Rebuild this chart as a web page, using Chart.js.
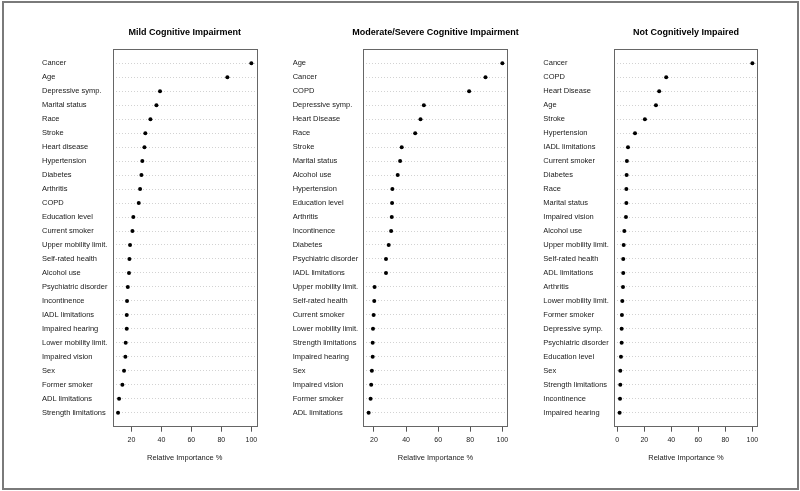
<!DOCTYPE html>
<html>
<head>
<meta charset="utf-8">
<script src="https://cdn.jsdelivr.net/npm/chart.js@4/dist/chart.umd.min.js"></script>
<style>
  html, body { margin: 0; padding: 0; background: #fff; }
  #wrap { position: relative; width: 800px; height: 491px; overflow: hidden; }
  #frame { position: absolute; left: 2px; top: 1px; width: 793px; height: 485px; border: 2px solid #7a7a7a; }
  canvas { position: absolute; top: 0; }
</style>
</head>
<body>
<div id="wrap">
  <div id="frame"></div>
  <canvas id="c1" width="266" height="491" style="left:0px"></canvas>
  <canvas id="c2" width="266" height="491" style="left:266px"></canvas>
  <canvas id="c3" width="268" height="491" style="left:532px"></canvas>
</div>
<script>
// Relative importance (%) of each predictor, top row first.
const mciLabels = ['Cancer', 'Age', 'Depressive symp.', 'Marital status', 'Race', 'Stroke',
  'Heart disease', 'Hypertension', 'Diabetes', 'Arthritis', 'COPD', 'Education level',
  'Current smoker', 'Upper mobility limit.', 'Self-rated health', 'Alcohol use',
  'Psychiatric disorder', 'Incontinence', 'IADL limitations', 'Impaired hearing',
  'Lower mobility limit.', 'Impaired vision', 'Sex', 'Former smoker', 'ADL limitations',
  'Strength limitations'];
const mciValues = [100, 84, 39.1, 36.7, 32.7, 29.3, 28.7, 27.3, 26.7, 25.8, 24.9, 21.3,
  20.7, 19.1, 18.7, 18.4, 17.6, 17.1, 16.9, 16.9, 16.2, 16.0, 15.1, 14.0, 11.8, 11.1];

const msciLabels = ['Age', 'Cancer', 'COPD', 'Depressive symp.', 'Heart Disease', 'Race',
  'Stroke', 'Marital status', 'Alcohol use', 'Hypertension', 'Education level', 'Arthritis',
  'Incontinence', 'Diabetes', 'Psychiatric disorder', 'IADL limitations',
  'Upper mobility limit.', 'Self-rated health', 'Current smoker', 'Lower mobility limit.',
  'Strength limitations', 'Impaired hearing', 'Sex', 'Impaired vision', 'Former smoker',
  'ADL limitations'];
const msciValues = [100, 89.5, 79.3, 51.1, 49.0, 45.7, 37.3, 36.3, 34.8, 31.5, 31.3, 31.1,
  30.7, 29.2, 27.5, 27.5, 20.4, 20.2, 19.8, 19.4, 19.2, 19.2, 18.7, 18.3, 17.9, 16.7];

const nciLabels = ['Cancer', 'COPD', 'Heart Disease', 'Age', 'Stroke', 'Hypertension',
  'IADL limitations', 'Current smoker', 'Diabetes', 'Race', 'Marital status',
  'Impaired vision', 'Alcohol use', 'Upper mobility limit.', 'Self-rated health',
  'ADL limitations', 'Arthritis', 'Lower mobility limit.', 'Former smoker',
  'Depressive symp.', 'Psychiatric disorder', 'Education level', 'Sex',
  'Strength limitations', 'Incontinence', 'Impaired hearing'];
const nciValues = [100, 36.2, 31.0, 28.6, 20.4, 13.1, 7.9, 7.1, 6.9, 6.7, 6.7, 6.4, 5.2,
  4.7, 4.4, 4.4, 4.2, 3.7, 3.4, 3.2, 3.2, 2.7, 2.2, 2.2, 2.0, 1.7];

const mciTicks = [20, 40, 60, 80, 100];
const msciTicks = [20, 40, 60, 80, 100];
const nciTicks = [0, 20, 40, 60, 80, 100];

const FONT = 'Liberation Sans, Arial, Helvetica, sans-serif';

// Box round the plot region plus a bold title centred over it (R dotchart look).
const boxPlugin = {
  id: 'boxTitle',
  afterDraw(chart, args, opts) {
    const { ctx, chartArea: a } = chart;
    ctx.save();
    ctx.strokeStyle = '#666';
    ctx.lineWidth = 1;
    ctx.strokeRect(Math.round(a.left) + 0.5, Math.round(a.top) + 0.5,
      Math.round(a.right - a.left), Math.round(a.bottom - a.top));
    ctx.fillStyle = '#000';
    ctx.font = 'bold 9px ' + FONT;
    ctx.textAlign = 'center';
    ctx.textBaseline = 'middle';
    ctx.fillText(opts.text, (a.left + a.right) / 2, 33);
    ctx.restore();
  }
};

function dotPanel(canvasId, title, labels, values, ticks, pad) {
  // R-style range: data extent widened by 4% on each side
  const lo = Math.min(...values), hi = Math.max(...values);
  const ext = (hi - lo) * 0.04;
  return new Chart(document.getElementById(canvasId).getContext('2d'), {
    type: 'scatter',
    data: {
      datasets: [{
        data: values.map((v, i) => ({ x: v, y: i + 1 })),
        backgroundColor: '#000',
        borderColor: '#000',
        pointRadius: 2,
        pointBorderWidth: 0
      }]
    },
    options: {
      responsive: false,
      animation: false,
      events: [],
      layout: { autoPadding: false, padding: { left: pad.left, right: pad.right, top: 49.3, bottom: 24.3 } },
      plugins: { legend: { display: false }, tooltip: { enabled: false }, boxTitle: { text: title } },
      scales: {
        x: {
          type: 'linear',
          min: lo - ext,
          max: hi + ext,
          afterBuildTicks: s => { s.ticks = ticks.map(v => ({ value: v })); },
          afterFit: s => { s.height = 40; s.paddingLeft = 0; s.paddingRight = 0; },
          border: { display: false },
          grid: { drawOnChartArea: false, drawTicks: true, tickLength: 5, color: '#555' },
          ticks: { color: '#1a1a1a', font: { family: FONT, size: 7 }, padding: 4, maxRotation: 0, autoSkip: false },
          title: { display: true, text: 'Relative Importance %', color: '#1a1a1a',
            font: { family: FONT, size: 7.5 }, padding: { top: 0, bottom: 4.5 } }
        },
        y: {
          type: 'linear',
          reverse: true,
          min: 0,
          max: labels.length + 1,
          afterBuildTicks: s => { s.ticks = labels.map((_, i) => ({ value: i + 1 })); },
          afterFit: s => { s.width = pad.axis; s.paddingTop = 0; s.paddingBottom = 0; },
          // v4 puts the grid-line dash pattern under border.dash
          border: { display: false, dash: [1, 2] },
          grid: { drawTicks: false, color: '#d2d2d2', lineWidth: 1 },
          ticks: {
            crossAlign: 'far',
            autoSkip: false,
            color: '#1a1a1a',
            font: { family: FONT, size: 7.5 },
            callback: v => labels[v - 1] || ''
          }
        }
      }
    },
    plugins: [boxPlugin]
  });
}

dotPanel('c1', 'Mild Cognitive Impairment', mciLabels, mciValues, mciTicks,
  { left: 42, axis: 70.7, right: 9.3 });
dotPanel('c2', 'Moderate/Severe Cognitive Impairment', msciLabels, msciValues, msciTicks,
  { left: 26.7, axis: 70.6, right: 24.3 });
dotPanel('c3', 'Not Cognitively Impaired', nciLabels, nciValues, nciTicks,
  { left: 11.3, axis: 71, right: 42.3 });
</script>
</body>
</html>
